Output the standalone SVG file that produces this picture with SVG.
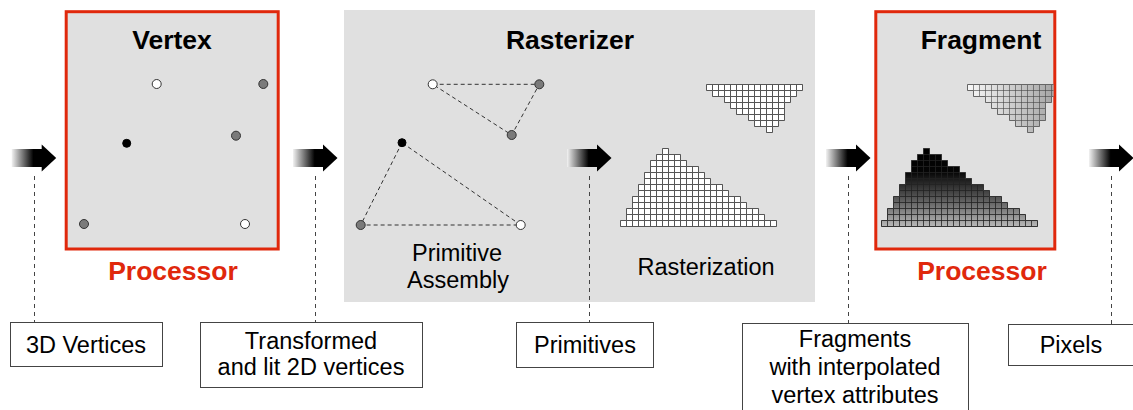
<svg xmlns="http://www.w3.org/2000/svg" width="1133" height="410" viewBox="0 0 1133 410">
<style>
  text { font-family: "Liberation Sans", Arial, sans-serif; }
  .title { font-size: 26.5px; font-weight: bold; text-anchor: middle; fill: #000; }
  .proc { font-size: 26.5px; font-weight: bold; text-anchor: middle; fill: #e0280c; }
  .lbl { font-size: 23.5px; text-anchor: middle; fill: #000; }
  .stage { fill: #e0e0e0; }
  .shader { fill: #e0e0e0; stroke: #e0280c; stroke-width: 3; }
  .box { fill: #fff; stroke: #444; stroke-width: 1; }
  .lead { stroke: #444; stroke-width: 1; stroke-dasharray: 4 4; fill: none; }
  .edge { stroke: #333; stroke-width: 1; stroke-dasharray: 4 3; fill: none; }
  .vw { fill: #fff; stroke: #333; stroke-width: 1; }
  .vg { fill: #7a7a7a; stroke: #333; stroke-width: 1; }
  .vk { fill: #000; stroke: #000; stroke-width: 1; }
</style>
<defs>
  <!-- arrow tail fades in from the left -->
  <linearGradient id="tail" x1="0" y1="0" x2="1" y2="0">
    <stop offset="0" stop-color="#f2f2f2"/>
    <stop offset="0.7" stop-color="#000"/>
  </linearGradient>
  <g id="arrow">
    <rect x="0" y="-9" width="31" height="18" fill="url(#tail)"/>
    <polygon points="30,-13.5 44.5,0 30,13.5" fill="#000"/>
  </g>

  <!-- 6px pixel grid, lines centred on multiples of 6 -->
  <pattern id="cells" patternUnits="userSpaceOnUse" x="-0.5" y="-0.5" width="6" height="6">
    <rect x="0" y="0" width="1" height="6" fill="#555"/>
    <rect x="0" y="0" width="6" height="1" fill="#555"/>
  </pattern>
  <pattern id="cellsDark" patternUnits="userSpaceOnUse" x="-0.5" y="-0.5" width="6" height="6">
    <rect x="0" y="0" width="1" height="6" fill="#222" fill-opacity="0.8"/>
    <rect x="0" y="0" width="6" height="1" fill="#222" fill-opacity="0.8"/>
  </pattern>
  <pattern id="cellsSoft" patternUnits="userSpaceOnUse" x="-0.5" y="-0.5" width="6" height="6">
    <rect x="0" y="0" width="1" height="6" fill="#444" fill-opacity="0.6"/>
    <rect x="0" y="0" width="6" height="1" fill="#444" fill-opacity="0.6"/>
  </pattern>

  <!-- rasterized triangle shapes, in 6px cells -->
  <path id="bigTri" d="M42,0H48V6H60V12H66V18H78V24H84V30H90V36H102V42H108V48H120V54H126V60H138V66H144V72H156V78H0V72H6V60H12V48H18V36H24V24H30V12H36V6H42Z"/>
  <path id="smallTri" d="M0,0H96V6H90V12H84V18H78V36H72V42H66V48H60V42H48V36H42V30H30V24H24V18H18V12H6V6H0Z"/>

  <!-- shaded fragments -->
  <linearGradient id="shadeBig" x1="0" y1="0" x2="0" y2="1">
    <stop offset="0" stop-color="#000"/>
    <stop offset="0.3" stop-color="#050505"/>
    <stop offset="0.65" stop-color="#5a5a5a"/>
    <stop offset="1" stop-color="#b8b8b8"/>
  </linearGradient>
  <linearGradient id="shadeSmall" x1="0" y1="0" x2="1" y2="0">
    <stop offset="0" stop-color="#f8f8f8"/>
    <stop offset="1" stop-color="#9c9c9c"/>
  </linearGradient>
  <clipPath id="fragClip">
    <rect x="877.5" y="13" width="176" height="234"/>
  </clipPath>
</defs>

<!-- Vertex processor -->
<g id="vertex">
  <rect class="shader" x="66.2" y="11.7" width="212" height="237.3"/>
  <text class="title" x="172" y="49">Vertex</text>
  <circle class="vw" cx="156.7" cy="84" r="4.5"/>
  <circle class="vg" cx="263.3" cy="84" r="4.5"/>
  <circle class="vk" cx="126.7" cy="143.3" r="4"/>
  <circle class="vg" cx="236" cy="135.7" r="4.5"/>
  <circle class="vg" cx="84" cy="224" r="4.5"/>
  <circle class="vw" cx="245" cy="224" r="4.5"/>
  <text class="proc" x="173" y="280">Processor</text>
</g>

<!-- Rasterizer stage -->
<g id="rasterizer">
  <rect class="stage" x="344" y="10" width="471" height="292"/>
  <text class="title" x="570" y="49">Rasterizer</text>
  <path class="edge" d="M432.7,84.3L539.3,84.3L511.7,135Z"/>
  <path class="edge" d="M402,142.7L360.7,225L520.7,225Z"/>
  <circle class="vw" cx="432.7" cy="84.3" r="4.5"/>
  <circle class="vg" cx="539.3" cy="84.3" r="4.5"/>
  <circle class="vg" cx="511.7" cy="135" r="4.5"/>
  <circle class="vk" cx="402" cy="142.7" r="4"/>
  <circle class="vg" cx="360.7" cy="225" r="4.5"/>
  <circle class="vw" cx="520.7" cy="225" r="4.5"/>
  <text class="lbl" x="457" y="261">Primitive</text>
  <text class="lbl" x="458" y="288">Assembly</text>

  <g transform="translate(706.5,84.5)">
    <use href="#smallTri" fill="#fff"/>
    <use href="#smallTri" fill="url(#cells)"/>
    <use href="#smallTri" fill="none" stroke="#555"/>
  </g>
  <g transform="translate(620.5,148.5)">
    <use href="#bigTri" fill="#fff"/>
    <use href="#bigTri" fill="url(#cells)"/>
    <use href="#bigTri" fill="none" stroke="#555"/>
  </g>
  <text class="lbl" x="706" y="275">Rasterization</text>
</g>

<!-- Fragment processor -->
<g id="fragment">
  <rect class="shader" x="875.8" y="11.7" width="179" height="237.3"/>
  <text class="title" x="981" y="49">Fragment</text>
  <g clip-path="url(#fragClip)">
    <g transform="translate(967.5,84.5)">
      <use href="#smallTri" fill="url(#shadeSmall)"/>
      <use href="#smallTri" fill="url(#cellsSoft)"/>
      <use href="#smallTri" fill="none" stroke="#666"/>
    </g>
  </g>
  <g transform="translate(881.5,148.5)">
    <use href="#bigTri" fill="url(#shadeBig)"/>
    <use href="#bigTri" fill="url(#cellsDark)"/>
    <use href="#bigTri" fill="none" stroke="#333"/>
  </g>
  <text class="proc" x="982" y="280">Processor</text>
</g>

<!-- data labels -->
<g id="lbl-3d-vertices">
  <rect class="box" x="10.5" y="322.5" width="152" height="44"/>
  <text class="lbl" x="86" y="353">3D Vertices</text>
</g>
<g id="lbl-transformed">
  <rect class="box" x="200.5" y="322.5" width="222" height="65"/>
  <text class="lbl" x="311" y="349">Transformed</text>
  <text class="lbl" x="311" y="375">and lit 2D vertices</text>
</g>
<g id="lbl-primitives">
  <rect class="box" x="516.5" y="322.5" width="137" height="45"/>
  <text class="lbl" x="585" y="353">Primitives</text>
</g>
<g id="lbl-fragments">
  <rect class="box" x="742.5" y="323.5" width="226" height="100"/>
  <text class="lbl" x="855" y="347">Fragments</text>
  <text class="lbl" x="855" y="375">with interpolated</text>
  <text class="lbl" x="855" y="403">vertex attributes</text>
</g>
<g id="lbl-pixels">
  <rect class="box" x="1008.5" y="324.5" width="130" height="41"/>
  <text class="lbl" x="1071" y="353">Pixels</text>
</g>

<!-- data flow arrows and leader lines -->
<g id="connectors">
  <use href="#arrow" x="11.7" y="158"/>
  <use href="#arrow" x="293" y="158"/>
  <use href="#arrow" x="567" y="158"/>
  <use href="#arrow" x="826" y="158"/>
  <use href="#arrow" x="1089" y="158"/>
  <path class="lead" d="M34.5,176V322"/>
  <path class="lead" d="M315.5,176V322"/>
  <path class="lead" d="M589.5,176V322"/>
  <path class="lead" d="M848.5,176V323"/>
  <path class="lead" d="M1111.5,176V324"/>
</g>
</svg>
